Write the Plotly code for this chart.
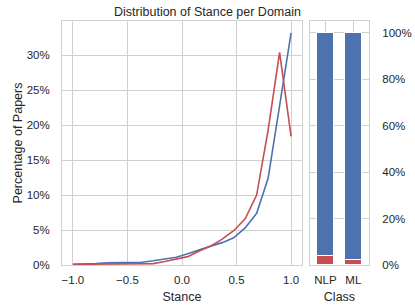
import plotly.graph_objects as go

# Stance bins (20 evenly spaced points from -1 to 1)
stance = [-1.0, -0.8947, -0.7895, -0.6842, -0.5789, -0.4737, -0.3684, -0.2632,
          -0.1579, -0.0526, 0.0526, 0.1579, 0.2632, 0.3684, 0.4737, 0.5789,
          0.6842, 0.7895, 0.8947, 1.0]
# Percentage of papers per stance bin
blue_pct = [0.1, 0.1, 0.2, 0.3, 0.3, 0.4, 0.4, 0.6, 0.8, 1.1,
            1.6, 2.2, 2.7, 3.2, 3.9, 5.3, 7.4, 12.4, 22.8, 33.2]
red_pct = [0.1, 0.1, 0.1, 0.1, 0.1, 0.2, 0.2, 0.2, 0.5, 0.8,
           1.2, 2.0, 2.7, 3.7, 4.9, 6.6, 10.0, 19.3, 30.4, 18.4]

classes = ["NLP", "ML"]
red_share = [3.9, 2.2]
blue_share = [96.1, 97.8]

left_ticks = [0, 5, 10, 15, 20, 25, 30]
left_labels = ["0%", "5%", "10%", "15%", "20%", "25%", "30%"]
right_ticks = [0, 20, 40, 60, 80, 100]
right_labels = ["0%", "20%", "40%", "60%", "80%", "100%"]
x_ticks = [-1.0, -0.5, 0.0, 0.5, 1.0]
x_labels = ["\u22121.0", "\u22120.5", "0.0", "0.5", "1.0"]

BLUE = "#4C72B0"
RED = "#C44E52"
GRID = "#d0d0d0"
FONT = "Liberation Sans, Arial, sans-serif"

fig = go.Figure()
fig.add_trace(go.Scatter(x=stance, y=blue_pct, mode="lines", name="Blue",
                         line=dict(color=BLUE, width=1.6), xaxis="x", yaxis="y"))
fig.add_trace(go.Scatter(x=stance, y=red_pct, mode="lines", name="Red",
                         line=dict(color=RED, width=1.6), xaxis="x", yaxis="y"))

fig.add_trace(go.Bar(x=classes, y=red_share, marker=dict(color=RED, line=dict(color="white", width=1)),
                     width=0.62, xaxis="x2", yaxis="y2", name="red share"))
fig.add_trace(go.Bar(x=classes, y=blue_share, marker=dict(color=BLUE, line=dict(color="white", width=1)),
                     width=0.62, xaxis="x2", yaxis="y2", name="blue share"))

ax_common = dict(showline=True, linecolor=GRID, linewidth=1, mirror=True,
                 showgrid=True, gridcolor=GRID, gridwidth=1, zeroline=False,
                 automargin=False,
                 ticks="outside", tickcolor="rgba(0,0,0,0)",
                 tickfont=dict(size=11.5, color="#262626", family=FONT))

fig.update_layout(
    width=415, height=308,
    margin=dict(l=0, r=0, t=0, b=0, pad=0),
    paper_bgcolor="white", plot_bgcolor="white",
    showlegend=False, barmode="stack", bargap=0,
    font=dict(family=FONT, color="#262626"),
    title=dict(text="Distribution of Stance per Domain", x=0.5, xanchor="center",
               y=0.962, yanchor="middle", automargin=False,
               font=dict(size=12.5, family=FONT, color="#262626")),
    xaxis=dict(domain=[0.1494, 0.7277], range=[-1.1, 1.1], ticklen=4,
               tickmode="array", tickvals=x_ticks, ticktext=x_labels,
               title=dict(text="Stance", font=dict(size=12.5), standoff=7),
               anchor="y", **ax_common),
    yaxis=dict(domain=[0.1396, 0.9318], range=[0, 34.9], ticklen=9,
               tickmode="array", tickvals=left_ticks, ticktext=left_labels,
               title=dict(text="Percentage of Papers", font=dict(size=12.5), standoff=1),
               anchor="x", **ax_common),
    xaxis2=dict(domain=[0.747, 0.889], range=[-0.55, 1.56], ticklen=4,
                title=dict(text="Class", font=dict(size=12.5), standoff=7),
                anchor="y2", **ax_common),
    yaxis2=dict(domain=[0.1396, 0.9318], range=[0, 105], ticklen=10,
                tickmode="array", tickvals=right_ticks, ticktext=right_labels, side="right",
                anchor="x2", **ax_common),
)

fig.write_html("out.html", config={"displayModeBar": False},
               post_script="document.body.style.margin='0';document.body.style.padding='0';")
